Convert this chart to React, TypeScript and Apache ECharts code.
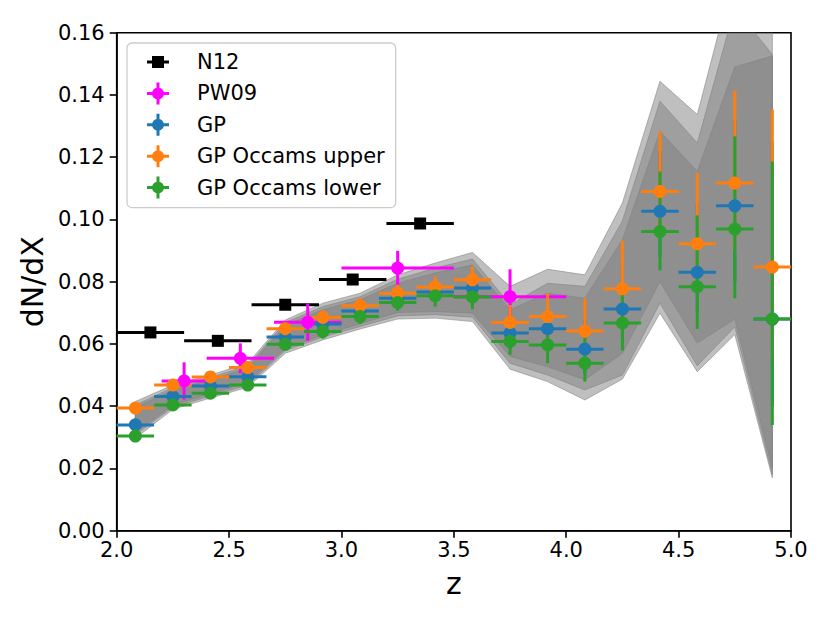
import React, { useEffect, useRef } from 'react';
import * as echarts from 'echarts';

// ---- data ----
const zBins = [2.083, 2.25, 2.417, 2.583, 2.75, 2.917, 3.083, 3.25, 3.417, 3.583, 3.75, 3.917, 4.083, 4.25, 4.417, 4.583, 4.75, 4.917];
const zBinHalf = 0.0833;

const gpVal = [0.0340, 0.0431, 0.0465, 0.0495, 0.0622, 0.0664, 0.0706, 0.0747, 0.0767, 0.0780, 0.0635, 0.0649, 0.0583, 0.0712, 0.1026, 0.0830, 0.1044, 0.0680];
const gpLo = [0.0328, 0.0416, 0.0448, 0.0476, 0.0602, 0.0640, 0.0680, 0.0718, 0.0734, 0.0742, 0.0585, 0.0585, 0.0505, 0.0610, 0.0880, 0.0700, 0.0800, 0.0400];
const gpHi = [0.0352, 0.0446, 0.0482, 0.0514, 0.0642, 0.0688, 0.0732, 0.0776, 0.0800, 0.0818, 0.0690, 0.0715, 0.0680, 0.0860, 0.1220, 0.1050, 0.1320, 0.1250];

const upVal = [0.0394, 0.0468, 0.0494, 0.0524, 0.0649, 0.0685, 0.0723, 0.0763, 0.0783, 0.0806, 0.0669, 0.0688, 0.0642, 0.0777, 0.1090, 0.0922, 0.1117, 0.0847];
const upLo = [0.0383, 0.0454, 0.0478, 0.0506, 0.0630, 0.0662, 0.0700, 0.0736, 0.0750, 0.0765, 0.0625, 0.0630, 0.0560, 0.0660, 0.0950, 0.0780, 0.0900, 0.0560];
const upHi = [0.0405, 0.0482, 0.0510, 0.0542, 0.0668, 0.0708, 0.0747, 0.0790, 0.0817, 0.0849, 0.0725, 0.0763, 0.0747, 0.0932, 0.1283, 0.1149, 0.1414, 0.1353];

const lowVal = [0.0304, 0.0404, 0.0442, 0.0468, 0.0599, 0.0640, 0.0688, 0.0733, 0.0755, 0.0751, 0.0608, 0.0597, 0.0538, 0.0667, 0.0961, 0.0784, 0.0969, 0.0680];
const lowLo = [0.0293, 0.0390, 0.0426, 0.0450, 0.0580, 0.0617, 0.0664, 0.0706, 0.0720, 0.0712, 0.0565, 0.0538, 0.0479, 0.0579, 0.0836, 0.0648, 0.0747, 0.0340];
const lowHi = [0.0315, 0.0418, 0.0458, 0.0486, 0.0618, 0.0663, 0.0712, 0.0760, 0.0788, 0.0792, 0.0655, 0.0655, 0.0620, 0.0780, 0.1154, 0.1013, 0.1267, 0.1186];

const n12Z = [2.15, 2.45, 2.75, 3.05, 3.35];
const n12Half = 0.15;
const n12Val = [0.0637, 0.0610, 0.0726, 0.0807, 0.0987];

const pw09Z = [2.30, 2.55, 2.85, 3.25, 3.75];
const pw09ZLo = [2.20, 2.40, 2.70, 3.00, 3.50];
const pw09ZHi = [2.40, 2.70, 3.00, 3.50, 4.00];
const pw09Val = [0.0481, 0.0554, 0.0670, 0.0844, 0.0752];
const pw09Err = [0.0060, 0.0048, 0.0060, 0.0055, 0.0088];

// shaded bands (outer, middle, inner)
const outerHi = [0.0415, 0.0468, 0.0500, 0.0538, 0.0677, 0.0731, 0.0763, 0.0822, 0.0860, 0.0894, 0.0785, 0.0840, 0.0822, 0.1053, 0.1444, 0.1337, 0.1800, 0.1720];
const outerLo = [0.0297, 0.0390, 0.0426, 0.0461, 0.0570, 0.0613, 0.0648, 0.0680, 0.0683, 0.0672, 0.0519, 0.0479, 0.0420, 0.0487, 0.0699, 0.0511, 0.0630, 0.0170];
const midHi = [0.0404, 0.0460, 0.0492, 0.0530, 0.0669, 0.0720, 0.0752, 0.0808, 0.0844, 0.0873, 0.0726, 0.0795, 0.0785, 0.0995, 0.1380, 0.1246, 0.1680, 0.1530];
const midLo = [0.0308, 0.0397, 0.0433, 0.0468, 0.0579, 0.0622, 0.0656, 0.0690, 0.0694, 0.0686, 0.0538, 0.0500, 0.0452, 0.0500, 0.0731, 0.0530, 0.0655, 0.0180];
const innerHi = [0.0397, 0.0452, 0.0485, 0.0522, 0.0661, 0.0710, 0.0742, 0.0795, 0.0828, 0.0854, 0.0710, 0.0763, 0.0747, 0.0935, 0.1283, 0.1154, 0.1490, 0.1525];
const innerLo = [0.0315, 0.0404, 0.0440, 0.0476, 0.0586, 0.0629, 0.0665, 0.0701, 0.0704, 0.0699, 0.0560, 0.0527, 0.0485, 0.0570, 0.0800, 0.0603, 0.0680, 0.0200];

const xTicks = { min: 2.0, max: 5.0, step: 0.5 };
const yTicks = { min: 0.0, max: 0.16, step: 0.02 };

const FONT = 'DejaVu Sans';

const iconCircle =
  'path://M0 9.5 L22 9.5 L22 12.5 L0 12.5 Z M9.5 0 L12.5 0 L12.5 22 L9.5 22 Z M5 11 A6 6 0 1 1 17 11 A6 6 0 1 1 5 11 Z M45 11 L45 11.01 L44.99 11 Z';
const iconSquare =
  'path://M0 9.5 L22 9.5 L22 12.5 L0 12.5 Z M5 5 L17 5 L17 17 L5 17 Z M11 0 L11.01 0 L11 0.01 Z M11 22 L11.01 22 L11 21.99 Z M45 11 L45 11.01 L44.99 11 Z';

function bandSeries(lo: number[], hi: number[]) {
  return {
    type: 'custom',
    z: 1,
    silent: true,
    clip: true,
    data: [[zBins[0], lo[0]]],
    renderItem: (params: any, api: any) => {
      const pts: number[][] = [];
      for (let i = 0; i < zBins.length; i++) pts.push(api.coord([zBins[i], hi[i]]));
      for (let i = zBins.length - 1; i >= 0; i--) pts.push(api.coord([zBins[i], lo[i]]));
      return {
        type: 'polygon',
        shape: { points: pts },
        style: { fill: 'rgba(128,128,128,0.5)', stroke: 'rgba(128,128,128,0.55)', lineWidth: 1 },
      };
    },
  };
}

function barSeries(name: string, color: string, rows: number[][]) {
  // rows: [x, y, xlo, xhi, ylo, yhi]
  return {
    type: 'custom',
    name,
    z: 2,
    itemStyle: { color },
    data: rows,
    encode: { x: 0, y: 1 },
    renderItem: (params: any, api: any) => {
      const x = api.value(0), y = api.value(1);
      const a = api.coord([api.value(2), y]);
      const b = api.coord([api.value(3), y]);
      const c = api.coord([x, api.value(4)]);
      const d = api.coord([x, api.value(5)]);
      const children: any[] = [
        { type: 'line', shape: { x1: a[0], y1: a[1], x2: b[0], y2: b[1] }, style: { stroke: color, lineWidth: 3 } },
      ];
      if (api.value(4) !== api.value(5)) {
        children.push({ type: 'line', shape: { x1: c[0], y1: c[1], x2: d[0], y2: d[1] }, style: { stroke: color, lineWidth: 3 } });
      }
      return { type: 'group', children };
    },
  };
}

function markerSeries(name: string, color: string, xs: number[], ys: number[], symbol: string, size: number) {
  return {
    type: 'scatter',
    name,
    z: 3,
    symbol,
    symbolSize: size,
    itemStyle: { color, opacity: 1 },
    emphasis: { disabled: true },
    data: xs.map((x, i) => [x, ys[i]]),
  };
}

export default function App() {
  const ref = useRef<HTMLDivElement>(null);
  useEffect(() => {
    if (!ref.current) return;
    const chart = echarts.init(ref.current, null, { renderer: 'svg' });

    const gpRows = zBins.map((z, i) => [z, gpVal[i], z - zBinHalf, z + zBinHalf, gpLo[i], gpHi[i]]);
    const upRows = zBins.map((z, i) => [z, upVal[i], z - zBinHalf, z + zBinHalf, upLo[i], upHi[i]]);
    const lowRows = zBins.map((z, i) => [z, lowVal[i], z - zBinHalf, z + zBinHalf, lowLo[i], lowHi[i]]);
    const n12Rows = n12Z.map((z, i) => [z, n12Val[i], z - n12Half, z + n12Half, n12Val[i], n12Val[i]]);
    const pwRows = pw09Z.map((z, i) => [z, pw09Val[i], pw09ZLo[i], pw09ZHi[i], pw09Val[i] - pw09Err[i], pw09Val[i] + pw09Err[i]]);

    const axisCommon = {
      axisLine: { show: true, lineStyle: { color: '#000', width: 1.6 } },
      axisTick: { show: true, inside: false, length: 7, lineStyle: { color: '#000', width: 1.6 } },
      splitLine: { show: false },
    };

    chart.setOption({
      animation: false,
      backgroundColor: '#fff',
      grid: {
        left: 116.7, right: 39, top: 32.7, bottom: 92.3,
        show: true, borderColor: '#000', borderWidth: 1.6, backgroundColor: 'transparent',
      },
      legend: {
        orient: 'vertical',
        left: 127, top: 43,
        padding: [8, 11, 9, 20],
        itemWidth: 45, itemHeight: 22, itemGap: 9.4,
        backgroundColor: 'rgba(255,255,255,0.8)',
        borderColor: '#cccccc', borderWidth: 1.3, borderRadius: 5,
        selectedMode: false,
        textStyle: { fontFamily: FONT, fontSize: 21, color: '#000' },
        data: [
          { name: 'N12', icon: iconSquare },
          { name: 'PW09', icon: iconCircle },
          { name: 'GP', icon: iconCircle },
          { name: 'GP Occams upper', icon: iconCircle },
          { name: 'GP Occams lower', icon: iconCircle },
        ],
      },
      xAxis: {
        type: 'value',
        min: xTicks.min, max: xTicks.max, interval: xTicks.step,
        name: 'z', nameLocation: 'middle', nameGap: 38,
        nameTextStyle: { fontFamily: FONT, fontSize: 30, color: '#000' },
        axisLabel: { fontFamily: FONT, fontSize: 21, color: '#000', margin: 9, formatter: (v: number) => v.toFixed(1) },
        ...axisCommon,
      },
      yAxis: {
        type: 'value',
        min: yTicks.min, max: yTicks.max, interval: yTicks.step,
        name: 'dN/dX', nameLocation: 'middle', nameGap: 64,
        nameTextStyle: { fontFamily: FONT, fontSize: 30, color: '#000' },
        axisLabel: { fontFamily: FONT, fontSize: 21, color: '#000', margin: 12, formatter: (v: number) => v.toFixed(2) },
        ...axisCommon,
      },
      series: [
        bandSeries(outerLo, outerHi),
        bandSeries(midLo, midHi),
        bandSeries(innerLo, innerHi),
        barSeries('N12', '#000000', n12Rows),
        barSeries('PW09', '#ff00ff', pwRows),
        barSeries('GP', '#1f77b4', gpRows),
        barSeries('GP Occams upper', '#ff7f0e', upRows),
        barSeries('GP Occams lower', '#2ca02c', lowRows),
        markerSeries('N12', '#000000', n12Z, n12Val, 'rect', 12),
        markerSeries('PW09', '#ff00ff', pw09Z, pw09Val, 'circle', 13),
        markerSeries('GP', '#1f77b4', zBins, gpVal, 'circle', 13),
        markerSeries('GP Occams upper', '#ff7f0e', zBins, upVal, 'circle', 13),
        markerSeries('GP Occams lower', '#2ca02c', zBins, lowVal, 'circle', 13),
      ],
    });
    return () => chart.dispose();
  }, []);
  return <div ref={ref} style={{ position: 'absolute', left: 0, top: 0, width: 830, height: 623 }} />;
}
